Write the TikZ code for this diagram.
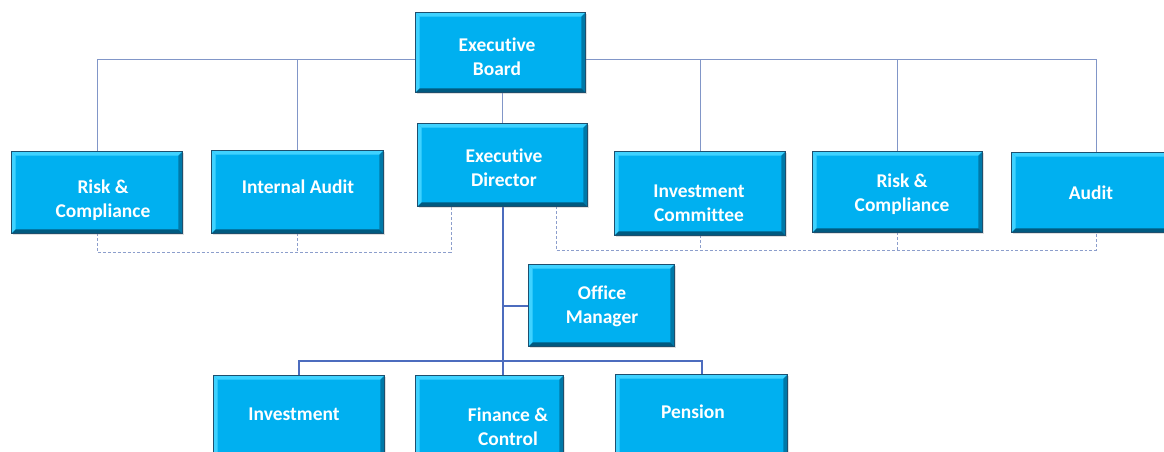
\documentclass[tikz,border=0pt]{standalone}
\usepackage{fontspec}
\setmainfont{Carlito}[Ligatures=NoCommon]
\usetikzlibrary{fit,shadows}
\definecolor{boxfill}{HTML}{00B0F0}
\definecolor{bevlight}{HTML}{3FD2FF}
\definecolor{bevdark}{HTML}{0079A8}
\definecolor{bevdeep}{HTML}{005A80}
\definecolor{boxedge}{HTML}{1D4F6E}
\definecolor{thinline}{HTML}{8196C8}
\definecolor{thickline}{HTML}{4C6CBE}
\definecolor{dashline}{HTML}{8C9ECC}
\tikzset{
  orgbox/.style={inner sep=0pt, fill=boxfill, draw=boxedge, line width=0.6pt,
    drop shadow={shadow xshift=1pt, shadow yshift=-1pt, opacity=0.25},
    path picture={
      \fill[bevlight] (path picture bounding box.north west) -- (path picture bounding box.north east)
        -- ([shift={(-3pt,-3pt)}]path picture bounding box.north east) -- ([shift={(3pt,-3pt)}]path picture bounding box.north west) -- cycle;
      \fill[bevlight] (path picture bounding box.north west) -- (path picture bounding box.south west)
        -- ([shift={(3pt,3pt)}]path picture bounding box.south west) -- ([shift={(3pt,-3pt)}]path picture bounding box.north west) -- cycle;
      \fill[bevdark] (path picture bounding box.north east) -- (path picture bounding box.south east)
        -- ([shift={(-3pt,3pt)}]path picture bounding box.south east) -- ([shift={(-3pt,-3pt)}]path picture bounding box.north east) -- cycle;
      \fill[bevdeep] (path picture bounding box.south west) -- (path picture bounding box.south east)
        -- ([shift={(-3pt,3pt)}]path picture bounding box.south east) -- ([shift={(3pt,3pt)}]path picture bounding box.south west) -- cycle;
    }},
  lbl/.style={text=white, font=\fontsize{14.6}{18}\selectfont\bfseries, align=center, inner sep=0pt},
  thinconn/.style={draw=thinline, line width=0.75pt},
  thickconn/.style={draw=thickline, line width=1.5pt},
  dashconn/.style={draw=dashline, line width=0.75pt, dash pattern=on 2.2pt off 1.5pt}
}
\begin{document}
\begin{tikzpicture}[x=0.75pt,y=-0.75pt]
\clip (0,0) rectangle (1164,451);
\fill[white] (0,0) rectangle (1164,451);
% coordinates
\coordinate (busL) at (97,59);
\coordinate (busR) at (1096,59);
\coordinate (dl) at (451,252);
\coordinate (dr) at (556,250);
\coordinate (bb) at (503,361);
% boxes (placed invisible first for names)
\path
  node[fit={(416,13) (585,92)}, inner sep=0pt] (eb) {}
  node[fit={(418,124) (587,206)}, inner sep=0pt] (ed) {}
  node[fit={(12,152) (182,233)}, inner sep=0pt] (rl) {}
  node[fit={(212,151) (383,233)}, inner sep=0pt] (ia) {}
  node[fit={(615,152) (785,235)}, inner sep=0pt] (ic) {}
  node[fit={(813,152) (982,232)}, inner sep=0pt] (rr) {}
  node[fit={(1012,153) (1180,232)}, inner sep=0pt] (au) {}
  node[fit={(529,265) (674,346)}, inner sep=0pt] (om) {}
  node[fit={(214,376) (384,460)}, inner sep=0pt] (inv) {}
  node[fit={(416,376) (563,470)}, inner sep=0pt] (fc) {}
  node[fit={(616,375) (787,460)}, inner sep=0pt] (pen) {};
% connectors
\draw[thinconn] (rl.north) -- (busL) -- (busR) -- (busR |- au.north);
\draw[thinconn] (ia.north) -- (ia.north |- busL);
\draw[thinconn] (ic.north) -- (ic.north |- busL);
\draw[thinconn] (rr.north) -- (rr.north |- busL);
\draw[thinconn] (ed.north |- eb.south) -- (ed.north);
\draw[dashconn] (rl.south) |- (dl) -- (dl |- ed.south);
\draw[dashconn] (ia.south) -- (ia.south |- dl);
\draw[dashconn] (dr |- ed.south) -- (dr) -- (busR |- dr) -- (busR |- au.south);
\draw[dashconn] (ic.south) -- (ic.south |- dr);
\draw[dashconn] (rr.south) -- (rr.south |- dr);
\draw[thickconn] (bb |- ed.south) -- (bb |- fc.north);
\draw[thickconn] (bb |- om.west) -- (om.west);
\draw[thickconn] (inv.north) -- (inv.north |- bb) -- (pen.north |- bb) -- (pen.north);
% visible boxes
\foreach \b in {eb,ed,rl,ia,ic,rr,au,om,inv,fc,pen}{
  \path[orgbox] (\b.north west) rectangle (\b.south east);
}
% labels
\node[lbl] (t-eb) at (497,57) {Executive\\Board};
\node[lbl] (t-ed) at (504,168) {Executive\\Director};
\node[lbl] (t-rl) at (103,200) {Risk \&\\Compliance};
\node[lbl] (t-ia) at (298,187) {Internal Audit};
\node[lbl] (t-ic) at (699,203) {Investment\\Committee};
\node[lbl] (t-rr) at (902,194) {Risk \&\\Compliance};
\node[lbl] (t-au) at (1091,193) {Audit};
\node[lbl] (t-om) at (602,306) {Office\\Manager};
\node[lbl] (t-inv) at (294,414) {Investment};
\node[lbl] (t-fc) at (508,427) {Finance \&\\Control};
\node[lbl] (t-pen) at (693,412) {Pension};
\end{tikzpicture}
\end{document}
